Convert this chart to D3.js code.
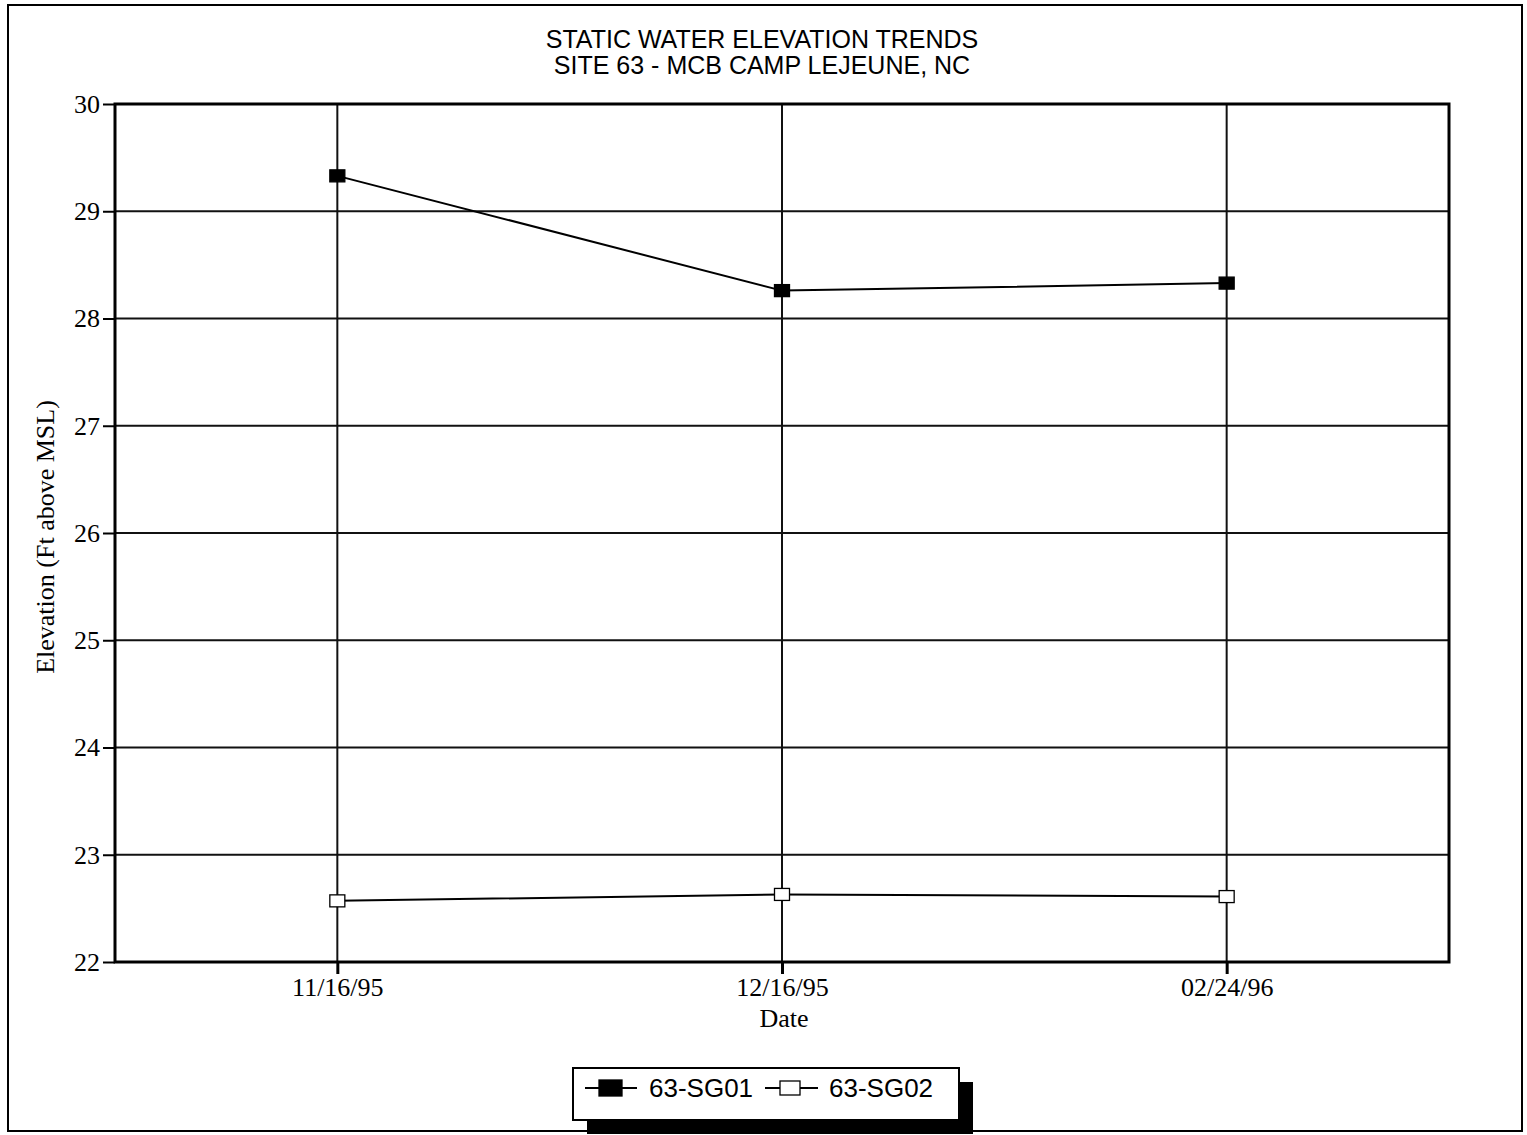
<!DOCTYPE html>
<html><head><meta charset="utf-8">
<script src="https://cdn.jsdelivr.net/npm/d3@7"></script>
<style>body{margin:0;background:#fff}</style>
</head><body>
<svg id="c" width="1527" height="1135"></svg>
<script>
const dates = ["11/16/95", "12/16/95", "02/24/96"];
const sg01 = [29.33, 28.26, 28.33];
const sg02 = [22.57, 22.63, 22.61];
const seriesNames = ["63-SG01", "63-SG02"];
const yTicks = [22, 23, 24, 25, 26, 27, 28, 29, 30];
const titleLines = ["STATIC WATER ELEVATION TRENDS", "SITE 63 - MCB CAMP LEJEUNE, NC"];

const svg = d3.select("#c");
const L = 115, R = 1449, T = 104, B = 962;
const x = d3.scalePoint().domain(dates).range([L, R]).padding(0.5);
const y = d3.scaleLinear().domain([22, 30]).range([B, T]);
const serif = "Liberation Serif, Times New Roman, serif";
const sans = "Liberation Sans, Arial, sans-serif";

// outer frame
svg.append("rect").attr("x", 8).attr("y", 5).attr("width", 1514).attr("height", 1126)
  .attr("fill", "none").attr("stroke", "#000").attr("stroke-width", 2);

// title
svg.append("text").attr("x", 762).attr("y", 48).attr("text-anchor", "middle")
  .attr("font-family", sans).attr("font-size", 25)
  .selectAll("tspan").data(titleLines).join("tspan")
  .attr("x", 762).attr("dy", (d, i) => i ? 26 : 0).text(d => d);

// gridlines
const g = svg.append("g");
g.selectAll(".hg").data(yTicks).join("line")
  .attr("x1", L).attr("x2", R).attr("y1", d => y(d)).attr("y2", d => y(d))
  .attr("stroke", "#111").attr("stroke-width", 2);
g.selectAll(".vg").data(dates).join("line")
  .attr("x1", d => x(d)).attr("x2", d => x(d)).attr("y1", T).attr("y2", B)
  .attr("stroke", "#111").attr("stroke-width", 2);

// axes
const ya = svg.append("g").attr("transform", `translate(${L},0)`)
  .call(d3.axisLeft(y).tickValues(yTicks).tickSize(12).tickPadding(3).tickFormat(d3.format("d")));
ya.select(".domain").remove();
ya.selectAll("line").attr("stroke-width", 2);
ya.selectAll("text").attr("font-family", serif).attr("font-size", 26).attr("fill", "#000");

const xa = svg.append("g").attr("transform", `translate(0,${B})`)
  .call(d3.axisBottom(x).tickSize(12).tickPadding(4));
xa.select(".domain").remove();
xa.selectAll("line").attr("stroke-width", 3);
xa.selectAll("text").attr("font-family", serif).attr("font-size", 26).attr("fill", "#000");

// plot frame
svg.append("rect").attr("x", L).attr("y", T).attr("width", R - L).attr("height", B - T)
  .attr("fill", "none").attr("stroke", "#000").attr("stroke-width", 3);

// axis titles
svg.append("text").attr("x", 784).attr("y", 1027).attr("text-anchor", "middle")
  .attr("font-family", serif).attr("font-size", 26).text("Date");
svg.append("text").attr("transform", "translate(54,537) rotate(-90)").attr("text-anchor", "middle")
  .attr("font-family", serif).attr("font-size", 26).text("Elevation (Ft above MSL)");

// lines
const line = d3.line().x((d, i) => x(dates[i])).y(d => y(d));
[sg01, sg02].forEach((s, k) => {
  svg.append("path").datum(s).attr("d", line).attr("fill", "none").attr("stroke", "#000").attr("stroke-width", 2);
  svg.selectAll(".m" + k).data(s).join("rect")
    .attr("x", (d, i) => x(dates[i]) - 7.5).attr("y", d => y(d) - 6)
    .attr("width", 15).attr("height", 12)
    .attr("fill", k ? "#fff" : "#000").attr("stroke", "#000").attr("stroke-width", 1.3);
});

// legend
const lg = svg.append("g");
lg.append("rect").attr("x", 587).attr("y", 1082).attr("width", 386).attr("height", 52).attr("fill", "#000");
lg.append("rect").attr("x", 573).attr("y", 1068).attr("width", 386).attr("height", 52).attr("fill", "#fff").attr("stroke", "#000").attr("stroke-width", 2);
const items = [
  {x1: 585, x2: 637, sx: 599, sw: 23, sh: 16, tx: 649, name: seriesNames[0], fill: "#000"},
  {x1: 765, x2: 818, sx: 780, sw: 20, sh: 14, tx: 829, name: seriesNames[1], fill: "#fff"}
];
items.forEach(it => {
  lg.append("line").attr("x1", it.x1).attr("x2", it.x2).attr("y1", 1088).attr("y2", 1088).attr("stroke", "#000").attr("stroke-width", 2);
  lg.append("rect").attr("x", it.sx).attr("y", 1088 - it.sh / 2).attr("width", it.sw).attr("height", it.sh).attr("fill", it.fill).attr("stroke", "#000").attr("stroke-width", 1.3);
  lg.append("text").attr("x", it.tx).attr("y", 1097).attr("font-family", sans).attr("font-size", 26).text(it.name);
});
</script>
</body></html>
